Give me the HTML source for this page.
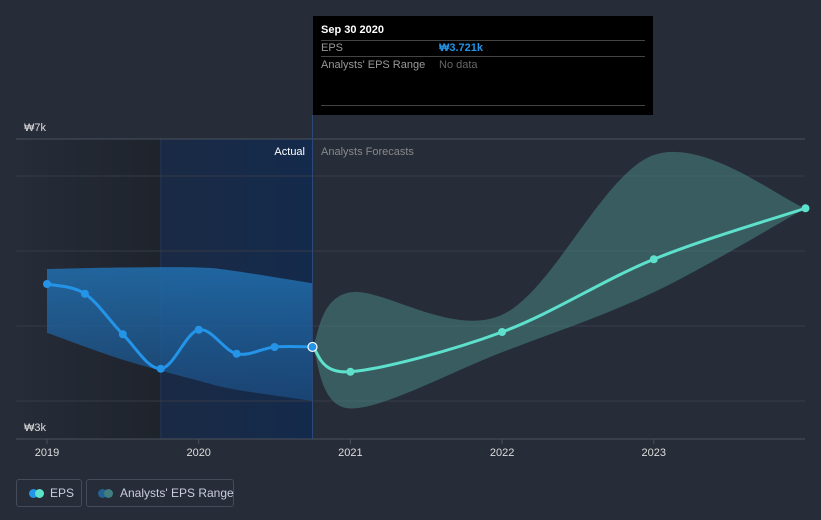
<!DOCTYPE html>
<html><head><meta charset="utf-8"><style>
body{margin:0;background:#262c38;font-family:"Liberation Sans","Noto Sans CJK KR",sans-serif;}
#wrap{position:relative;width:821px;height:520px;overflow:hidden}
.lg{position:absolute;top:479px;height:28px;border:1px solid #444c5a;border-radius:3px;color:#ccd;font-size:12px;box-sizing:border-box;line-height:26px;white-space:nowrap}
.dot{position:absolute;top:9px;width:9px;height:9px;border-radius:50%}
</style></head><body>
<div id="wrap">
<svg id="svg" width="821" height="520"></svg>
<div class="lg" style="left:16px;width:66px">
<span class="dot" style="left:12px;background:#2394e8"></span><span class="dot" style="left:18px;background:#5de0cc"></span><span style="position:absolute;left:33px">EPS</span></div>
<div class="lg" style="left:86px;width:148px">
<span class="dot" style="left:11px;background:#236192"></span><span class="dot" style="left:17px;background:#3f7d7e"></span><span style="position:absolute;left:33px">Analysts' EPS Range</span></div>
<div style="position:absolute;left:313px;top:16px;width:340px;height:99px;background:#000;color:#fff;font-size:11px">
<div style="position:absolute;left:8px;top:8px;font-weight:bold">Sep 30 2020</div>
<div style="position:absolute;left:8px;right:8px;top:24px;border-top:1px solid #444"></div>
<div style="position:absolute;left:8px;top:26px;color:#999">EPS</div>
<div style="position:absolute;left:126px;top:26px;color:#2394e8;font-weight:bold">₩3.721k</div>
<div style="position:absolute;left:8px;right:8px;top:40px;border-top:1px solid #444"></div>
<div style="position:absolute;left:8px;top:43px;color:#999">Analysts' EPS Range</div>
<div style="position:absolute;left:126px;top:43px;color:#666">No data</div>
<div style="position:absolute;left:8px;right:8px;top:89px;border-top:1px solid #444"></div>
</div>
</div>
<script>
const epsDates=[2019,2019.25,2019.5,2019.75,2020,2020.25,2020.5,2020.75];
const epsVals=[4.56,4.43,3.89,3.43,3.95,3.63,3.72,3.721];
const fcDates=[2020.75,2021,2022,2023,2024];
const fcVals=[3.721,3.39,3.92,4.89,5.57];
const actRangeDates=[2019,2019.5,2020,2020.25,2020.75];
const actRangeHigh=[4.76,4.78,4.78,4.73,4.57];
const actRangeLow=[3.91,3.55,3.27,3.15,3.0];
const fcRangeDates=[2020.75,2021,2022,2023,2024];
const fcRangeHigh=[3.721,4.45,4.15,6.28,5.57];
const fcRangeLow=[3.721,2.9,3.65,4.45,5.57];
const yTicks=[3,4,5,6];
const xTicks=[2019,2020,2021,2022,2023];
const x=d=>47+(d-2019)*151.7;
const y=v=>401-(v-3)*75;
const NS='http://www.w3.org/2000/svg';
const svg=document.getElementById('svg');
function mk(t,a,p){const e=document.createElementNS(NS,t);for(const k in a)e.setAttribute(k,a[k]);(p||svg).appendChild(e);return e;}
function curve(pts,move){let s=move?`M${pts[0][0]},${pts[0][1]}`:`L${pts[0][0]},${pts[0][1]}`;
for(let i=0;i<pts.length-1;i++){const p0=pts[i-1]||pts[i],p1=pts[i],p2=pts[i+1],p3=pts[i+2]||p2;
s+=`C${p1[0]+(p2[0]-p0[0])/6},${p1[1]+(p2[1]-p0[1])/6} ${p2[0]-(p3[0]-p1[0])/6},${p2[1]-(p3[1]-p1[1])/6} ${p2[0]},${p2[1]}`;}return s;}
const defs=mk('defs',{});
const g1=mk('linearGradient',{id:'bg1',x1:0,x2:1,y1:0,y2:0},defs);
mk('stop',{offset:0,'stop-color':'#262c38'},g1);mk('stop',{offset:1,'stop-color':'#1e232c'},g1);
const g2=mk('linearGradient',{id:'bg2',x1:0,x2:1,y1:0,y2:0},defs);
mk('stop',{offset:0,'stop-color':'#1a2a44'},g2);mk('stop',{offset:1,'stop-color':'#142a4c'},g2);
const g3=mk('linearGradient',{id:'bg3',x1:0,x2:0,y1:0,y2:1},defs);
mk('stop',{offset:0,'stop-color':'#2170b0','stop-opacity':0.85},g3);mk('stop',{offset:1,'stop-color':'#1c4c80','stop-opacity':0.75},g3);
let r=mk('rect',{x:16,y:139,width:x(2019.75)-16,height:300,fill:'url(#bg1)'});
r=mk('rect',{x:x(2019.75),y:139,width:x(2020.75)-x(2019.75),height:300,fill:'url(#bg2)'});
mk('line',{x1:x(2019.75),x2:x(2019.75),y1:139,y2:439,stroke:'#22365a'});
mk('line',{x1:16,x2:805,y1:139,y2:139,stroke:'#4a505c'});
yTicks.forEach(v=>{const l=mk('line',{x1:16,x2:805,y1:y(v),y2:y(v),stroke:'#353b47'});});
mk('line',{x1:16,x2:805,y1:439,y2:439,stroke:'#4a505c'});
function band(d,h,l,fill,name){const up=d.map((t,i)=>[x(t),y(h[i])]);const lo=d.map((t,i)=>[x(t),y(l[i])]).reverse();
const p=mk('path',{d:curve(up,true)+curve(lo,false)+'Z',fill});}
band(actRangeDates,actRangeHigh,actRangeLow,'url(#bg3)','actual-eps-range');
band(fcRangeDates,fcRangeHigh,fcRangeLow,'rgba(80,150,145,0.45)','forecast-eps-range');
mk('line',{x1:x(2020.75),x2:x(2020.75),y1:115,y2:439,stroke:'#2a4a7a'});
let p=mk('path',{d:curve(epsDates.map((t,i)=>[x(t),y(epsVals[i])]),true),fill:'none',stroke:'#2394e8','stroke-width':3});
p=mk('path',{d:curve(fcDates.map((t,i)=>[x(t),y(fcVals[i])]),true),fill:'none',stroke:'#5de0cc','stroke-width':3});
epsDates.forEach((t,i)=>{if(i==epsDates.length-1)return;const c=mk('circle',{cx:x(t),cy:y(epsVals[i]),r:4,fill:'#2394e8'});});
fcDates.forEach((t,i)=>{if(i==0)return;const c=mk('circle',{cx:x(t),cy:y(fcVals[i]),r:4,fill:'#5de0cc'});});
let c=mk('circle',{cx:x(2020.75),cy:y(epsVals[7]),r:4.5,fill:'#2394e8',stroke:'#fff','stroke-width':1.2});
function txt(s,a,name){const t=mk('text',Object.assign({'font-size':11,'font-family':'Liberation Sans, Noto Sans CJK KR, sans-serif'},a));t.textContent=s;return t;}
txt('₩7k',{x:24,y:131,fill:'#ddd'},'y-label-top');
txt('₩3k',{x:24,y:431,fill:'#ddd'},'y-label-bottom');
txt('Actual',{x:305,y:155,fill:'#fff','text-anchor':'end'},'actual-label');
txt('Analysts Forecasts',{x:321,y:155,fill:'#888'},'forecast-label');
xTicks.forEach(t=>{mk('line',{x1:x(t),x2:x(t),y1:439,y2:444,stroke:'#4a505c'});txt(String(t),{x:x(t),y:456,fill:'#ddd','text-anchor':'middle'},'x-tick-label');});
</script></body></html>
